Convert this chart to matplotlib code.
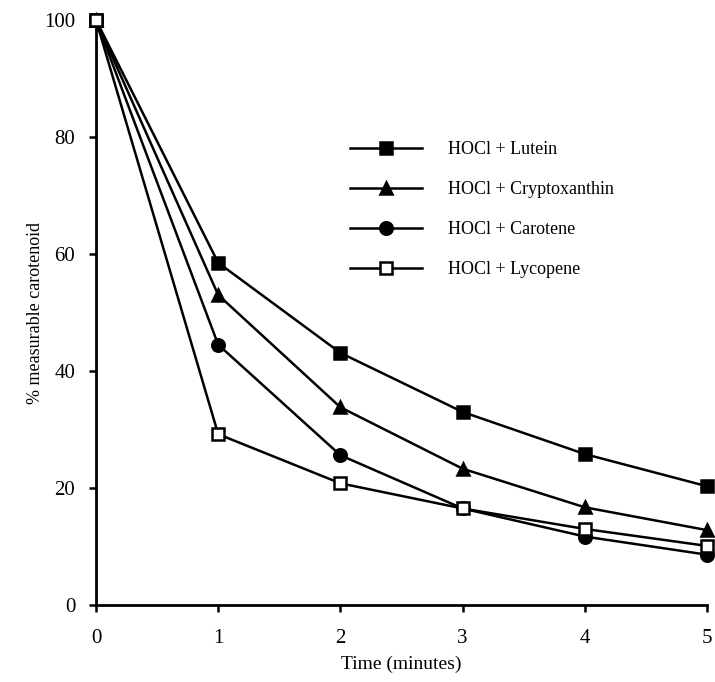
import matplotlib
matplotlib.use("Agg")
import matplotlib.pyplot as plt

time_min = [0, 1, 2, 3, 4, 5]
lutein = [100, 58.5, 43.1, 33.0, 25.8, 20.3]
cryptoxanthin = [100, 53.0, 33.8, 23.3, 16.7, 12.8]
carotene = [100, 44.5, 25.6, 16.5, 11.7, 8.6]
lycopene = [100, 29.2, 20.8, 16.5, 13.0, 10.1]

series = [
    ("HOCl + Lutein", lutein, "s", "black"),
    ("HOCl + Cryptoxanthin", cryptoxanthin, "^", "black"),
    ("HOCl + Carotene", carotene, "o", "black"),
    ("HOCl + Lycopene", lycopene, "s", "white"),
]

plt.rcParams['font.family'] = ['Liberation Serif', 'DejaVu Serif']

fig = plt.figure(figsize=(7.15, 6.82), dpi=100)
ax = fig.add_axes([96/715, 1-605/682, (707-96)/715, (605-20)/682])

for label, vals, mk, fc in series:
    ax.plot(time_min, vals, color="black", lw=1.8, marker=mk, markersize=9,
            markerfacecolor=fc, markeredgecolor="black", markeredgewidth=1.8,
            label=label, clip_on=False, zorder=3)

ax.set_xlim(0, 5)
ax.set_ylim(0, 100)
ax.set_xticks(range(0, 6))
ax.set_yticks(range(0, 101, 20))
ax.spines['top'].set_visible(False)
ax.spines['right'].set_visible(False)
for s in ['left', 'bottom']:
    ax.spines[s].set_linewidth(2)
ax.tick_params(width=1.8, length=5, labelsize=15, direction='out')
ax.tick_params(axis='x', pad=12)
ax.tick_params(axis='y', pad=10)
ax.set_xlabel("Time (minutes)", fontsize=14, labelpad=6)
ax.set_ylabel("% measurable carotenoid", fontsize=13, labelpad=0)

leg = ax.legend(loc='upper left', bbox_to_anchor=((350-96)/611, 1-(141-20)/585),
                frameon=False, fontsize=13, handlelength=4.0, handletextpad=1.4,
                labelspacing=1.28, borderaxespad=0, borderpad=0)

fig.savefig("out.png", dpi=100)
